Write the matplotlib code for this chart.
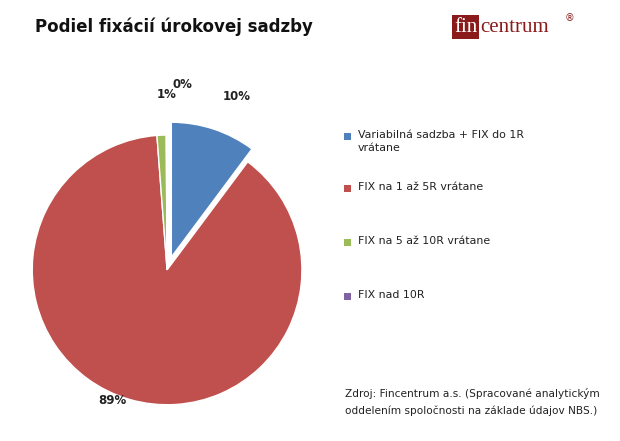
import matplotlib
matplotlib.use("Agg")
import matplotlib.pyplot as plt

categories = ["Variabilná sadzba + FIX do 1R\nvrátane", "FIX na 1 až 5R vrátane",
              "FIX na 5 až 10R vrátane", "FIX nad 10R"]
values = [10.2, 88.6, 1.1, 0.1]
pct_labels = ["10%", "89%", "1%", "0%"]
colors = ["#4F81BD", "#C0504D", "#9BBB59", "#8064A2"]

fig = plt.figure(figsize=(6.2, 4.41), dpi=100)
fig.patch.set_facecolor("white")
ax = fig.add_axes([0.052, 0.082, 0.435, 0.612])
wedges, _ = ax.pie(values, colors=colors, startangle=90, counterclock=False,
                   explode=[0.1, 0, 0, 0], wedgeprops=dict(edgecolor="white", linewidth=1))
for w in wedges:
    w.set_clip_on(False)
ax.set_xlim(-1, 1)
ax.set_ylim(-1, 1)
ax.set_aspect("equal")
ax.axis("off")

lab_pos = [(237, 97), (112, 400), (167, 95), (182, 84)]
for (x, y), t in zip(lab_pos, pct_labels):
    fig.text(x / 620, 1 - y / 441, t, fontsize=8.5, fontweight="bold",
             ha="center", va="center", color="#222222")

fig.text(35 / 620, 1 - 27 / 441, "Podiel fixácií úrokovej sadzby", fontsize=12,
         fontweight="bold", va="center", color="#111111")

# logo
fig.text(454 / 620, 1 - 27 / 441, "fin", fontsize=15, family="Liberation Serif",
         color="white", va="center", ha="left",
         bbox=dict(boxstyle="square,pad=0.1", fc="#8B1A1A", ec="none"))
fig.text(480 / 620, 1 - 27 / 441, "centrum", fontsize=15, family="Liberation Serif",
         color="#8B1A1A", va="center", ha="left")
fig.text(565 / 620, 1 - 18 / 441, "®", fontsize=7, color="#8B1A1A", va="center")

leg_y = [136, 188, 242, 296]
for y, c, t in zip(leg_y, colors, categories):
    fig.patches.append(plt.Rectangle((344 / 620, 1 - (y + 4) / 441), 7 / 620, 7 / 441,
                                     transform=fig.transFigure, fc=c, ec="none"))
    fig.text(358 / 620, 1 - (y - 6) / 441, t, fontsize=7.9, va="top",
             color="#222222", linespacing=1.4)

fig.text(345 / 620, 1 - 402 / 441,
         "Zdroj: Fincentrum a.s. (Spracované analytickým\noddelením spoločnosti na základe údajov NBS.)",
         fontsize=7.6, va="center", color="#222222", linespacing=1.7)

fig.savefig("out.png", dpi=100)
